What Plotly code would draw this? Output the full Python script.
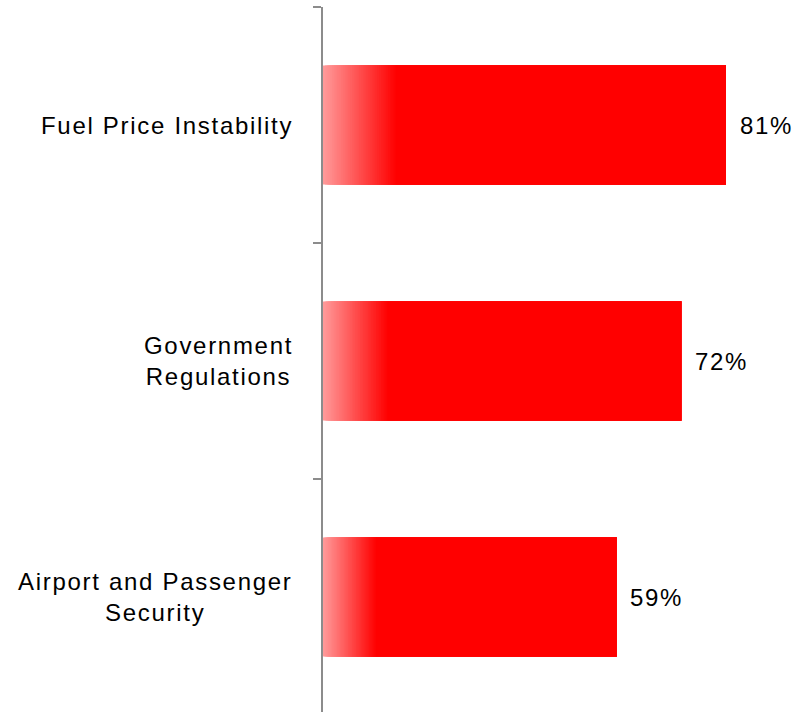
import plotly.graph_objects as go

# Survey results: share of respondents naming each issue
categories = ["Airport and Passenger<br>Security", "Government<br>Regulations", "Fuel Price Instability"]
values = [59, 72, 81]
value_labels = ["59%", "72%", "81%"]

# Bar fill: light pink at the baseline fading into solid red
FADE_FRACTION = 0.18
FADE_STEPS = 40
START_RGB = (255, 153, 153)
END_RGB = (255, 0, 0)

FONT = "Liberation Sans, Arial, sans-serif"
AXIS_GREY = "#8c8c8c"
SPACING = "letter-spacing:1.7px"


def spaced(text):
    """Wrap each line of a label in a span with a little extra tracking."""
    return "<br>".join(f'<span style="{SPACING}">{line}</span>' for line in text.split("<br>"))


fig = go.Figure()

# Each layer starts a little further right and runs to the bar end,
# so later (redder) layers cover earlier ones and the fade has no seams.
for k in range(FADE_STEPS + 1):
    t = k / FADE_STEPS
    r = round(START_RGB[0] + (END_RGB[0] - START_RGB[0]) * t)
    g = round(START_RGB[1] + (END_RGB[1] - START_RGB[1]) * t)
    b = round(START_RGB[2] + (END_RGB[2] - START_RGB[2]) * t)
    bases = [v * FADE_FRACTION * t for v in values]
    lengths = [v - base for v, base in zip(values, bases)]
    fig.add_trace(go.Bar(
        y=categories,
        x=lengths,
        base=bases,
        orientation="h",
        width=0.504,
        marker=dict(color=f"rgb({r},{g},{b})", line=dict(width=0)),
        hoverinfo="skip",
        showlegend=False,
    ))

# Category labels, centred line by line, to the left of the axis
for cat in categories:
    fig.add_annotation(
        x=0, y=cat, xref="x", yref="y",
        text=spaced(cat), showarrow=False,
        xanchor="right", yanchor="middle", align="center",
        xshift=-28,
        font=dict(family=FONT, size=24, color="#000000"),
    )

# Value labels just past the end of each bar
for cat, v, lab in zip(categories, values, value_labels):
    fig.add_annotation(
        x=v, y=cat, xref="x", yref="y",
        text=spaced(lab), showarrow=False,
        xanchor="left", yanchor="middle",
        xshift=12,
        font=dict(family=FONT, size=24, color="#000000"),
    )

fig.update_layout(
    width=809,
    height=712,
    margin=dict(l=323, r=0, t=7, b=0),
    barmode="overlay",
    plot_bgcolor="white",
    paper_bgcolor="white",
    xaxis=dict(visible=False, range=[0, 97.7]),
    yaxis=dict(
        type="category",
        categoryorder="array",
        categoryarray=categories,
        range=[-0.487, 2.5],
        tickson="boundaries",
        ticks="outside",
        ticklen=8,
        tickwidth=2,
        tickcolor=AXIS_GREY,
        showticklabels=False,
        showgrid=False,
        showline=True,
        linewidth=2,
        linecolor=AXIS_GREY,
        zeroline=False,
    ),
)

fig.write_html("out.html")
